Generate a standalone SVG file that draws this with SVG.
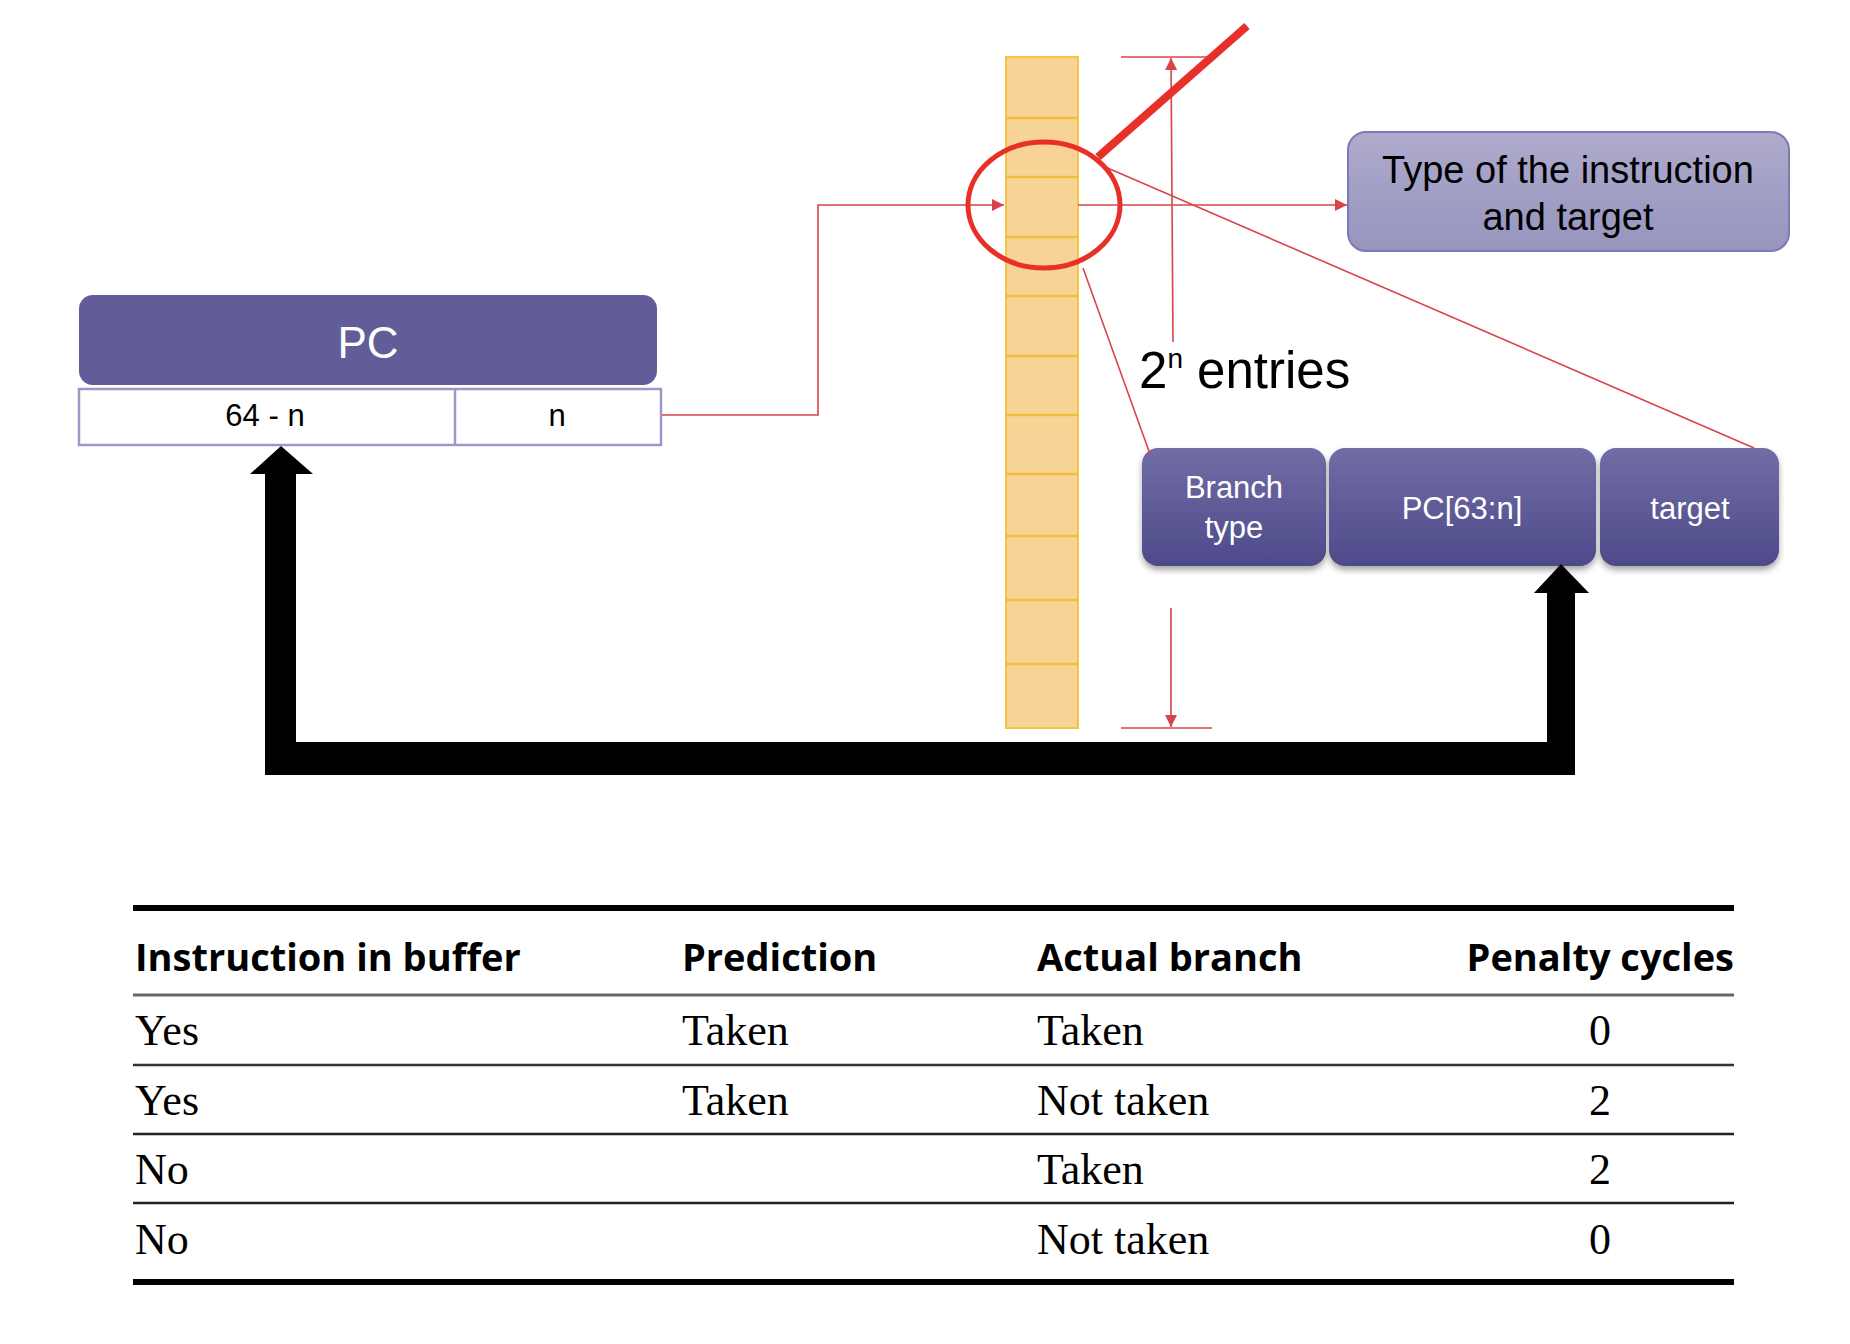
<svg xmlns="http://www.w3.org/2000/svg" width="1850" height="1344" viewBox="0 0 1850 1344">
<defs>
<linearGradient id="gLight" x1="0" y1="0" x2="0" y2="1">
<stop offset="0" stop-color="#aeabcc"/><stop offset="1" stop-color="#9794bf"/>
</linearGradient>
<linearGradient id="gDark" x1="0" y1="0" x2="0" y2="1">
<stop offset="0" stop-color="#716da6"/><stop offset="1" stop-color="#4e4a8a"/>
</linearGradient>
<filter id="sh" x="-10%" y="-10%" width="120%" height="130%">
<feDropShadow dx="0" dy="4" stdDeviation="3" flood-color="#000" flood-opacity="0.35"/>
</filter>
<marker id="ar" viewBox="0 0 10 10" refX="10" refY="5" markerWidth="12" markerHeight="12" markerUnits="userSpaceOnUse" orient="auto">
<path d="M0,0 L10,5 L0,10 Z" fill="#d9434a"/>
</marker>
</defs>
<style>
.sans{font-family:"Liberation Sans",Arial,sans-serif}
.serif{font-family:"Liberation Serif","Times New Roman",serif;font-size:44px;fill:#000}
.hdr{font-family:"Open Sans","Liberation Sans",sans-serif;font-weight:bold;font-size:38px;fill:#000}
.thin{stroke:#d9434a;stroke-width:1.6;fill:none}
.row{stroke:#f2bd3e;stroke-width:2.5}
.wt{fill:#fff;text-anchor:middle}
</style>
<rect width="1850" height="1344" fill="#fff"/>

<g id="pc">
<rect x="79" y="295" width="578" height="90" rx="14" fill="#625d98"/>
<text class="sans wt" x="368" y="358" font-size="44">PC</text>
<rect x="79" y="389" width="582" height="56" fill="#fff" stroke="#9b98c8" stroke-width="2.5"/>
<line x1="455" y1="389" x2="455" y2="445" stroke="#9b98c8" stroke-width="2.5"/>
<text class="sans" x="265" y="426" font-size="31" text-anchor="middle">64 - n</text>
<text class="sans" x="557" y="426" font-size="31" text-anchor="middle">n</text>
</g>

<g id="table-column">
<rect x="1006" y="57" width="72" height="671" fill="#f8d396" stroke="#f5c444" stroke-width="2"/>
<line class="row" x1="1006" y1="118" x2="1078" y2="118"/>
<line class="row" x1="1006" y1="177" x2="1078" y2="177"/>
<line class="row" x1="1006" y1="237" x2="1078" y2="237"/>
<line class="row" x1="1006" y1="296" x2="1078" y2="296"/>
<line class="row" x1="1006" y1="356" x2="1078" y2="356"/>
<line class="row" x1="1006" y1="415" x2="1078" y2="415"/>
<line class="row" x1="1006" y1="474" x2="1078" y2="474"/>
<line class="row" x1="1006" y1="536" x2="1078" y2="536"/>
<line class="row" x1="1006" y1="600" x2="1078" y2="600"/>
<line class="row" x1="1006" y1="664" x2="1078" y2="664"/>
</g>

<g id="type-box">
<rect x="1348" y="132" width="441" height="119" rx="18" fill="url(#gLight)" stroke="#7d7ab6" stroke-width="2"/>
<text class="sans" x="1568" y="183" font-size="38" text-anchor="middle">Type of the instruction</text>
<text class="sans" x="1568" y="230" font-size="38" text-anchor="middle">and target</text>
</g>

<g id="entry">
<rect x="1142" y="448" width="184" height="118" rx="16" fill="url(#gDark)" filter="url(#sh)"/>
<rect x="1329" y="448" width="267" height="118" rx="16" fill="url(#gDark)" filter="url(#sh)"/>
<rect x="1600" y="448" width="179" height="118" rx="16" fill="url(#gDark)" filter="url(#sh)"/>
<text class="sans wt" x="1234" y="498" font-size="31">Branch</text>
<text class="sans wt" x="1234" y="538" font-size="31">type</text>
<text class="sans wt" x="1462" y="519" font-size="31">PC[63:n]</text>
<text class="sans wt" x="1690" y="519" font-size="31">target</text>
</g>

<g id="dimension">
<line class="thin" x1="1121" y1="57" x2="1212" y2="57"/>
<line class="thin" x1="1121" y1="728" x2="1212" y2="728"/>
<line class="thin" x1="1173" y1="342" x2="1171" y2="58" marker-end="url(#ar)"/>
<line class="thin" x1="1171" y1="608" x2="1171" y2="727" marker-end="url(#ar)"/>
<text class="sans" x="1139" y="388" font-size="51">2<tspan font-size="28" dy="-20">n</tspan><tspan dy="20"> entries</tspan></text>
</g>

<g id="connectors">
<polyline class="thin" points="662,415 818,415 818,205 1004,205" marker-end="url(#ar)"/>
<line class="thin" x1="1078" y1="205" x2="1347" y2="205" marker-end="url(#ar)"/>
<line class="thin" x1="1083" y1="268" x2="1150" y2="454"/>
<line class="thin" x1="1103" y1="166" x2="1754" y2="448"/>
<ellipse cx="1044" cy="205" rx="76" ry="63" fill="none" stroke="#e8302a" stroke-width="5"/>
<line x1="1098" y1="157" x2="1247" y2="26" stroke="#e8302a" stroke-width="8"/>
<path d="M1547,593 L1547,742 L296,742 L296,474 L313,474 L281,446 L250,474 L265,474 L265,775 L1575,775 L1575,593 L1589,593 L1561,564 L1534,593 Z" fill="#000"/>
</g>

<g id="penalty-table">
<line x1="133" y1="908" x2="1734" y2="908" stroke="#000" stroke-width="6"/>
<text class="hdr" x="135" y="971">Instruction in buffer</text>
<text class="hdr" x="682" y="971">Prediction</text>
<text class="hdr" x="1037" y="971">Actual branch</text>
<text class="hdr" x="1734" y="971" text-anchor="end">Penalty cycles</text>
<line x1="133" y1="995" x2="1734" y2="995" stroke="#666" stroke-width="3"/>
<text class="serif" x="135" y="1045">Yes</text>
<text class="serif" x="682" y="1045">Taken</text>
<text class="serif" x="1037" y="1045">Taken</text>
<text class="serif" x="1600" y="1045" text-anchor="middle">0</text>
<line x1="133" y1="1065" x2="1734" y2="1065" stroke="#333" stroke-width="2.5"/>
<text class="serif" x="135" y="1115">Yes</text>
<text class="serif" x="682" y="1115">Taken</text>
<text class="serif" x="1037" y="1115">Not taken</text>
<text class="serif" x="1600" y="1115" text-anchor="middle">2</text>
<line x1="133" y1="1134" x2="1734" y2="1134" stroke="#222" stroke-width="2.5"/>
<text class="serif" x="135" y="1184">No</text>
<text class="serif" x="1037" y="1184">Taken</text>
<text class="serif" x="1600" y="1184" text-anchor="middle">2</text>
<line x1="133" y1="1203" x2="1734" y2="1203" stroke="#222" stroke-width="2.5"/>
<text class="serif" x="135" y="1254">No</text>
<text class="serif" x="1037" y="1254">Not taken</text>
<text class="serif" x="1600" y="1254" text-anchor="middle">0</text>
<line x1="133" y1="1282" x2="1734" y2="1282" stroke="#000" stroke-width="6"/>
</g>
</svg>
